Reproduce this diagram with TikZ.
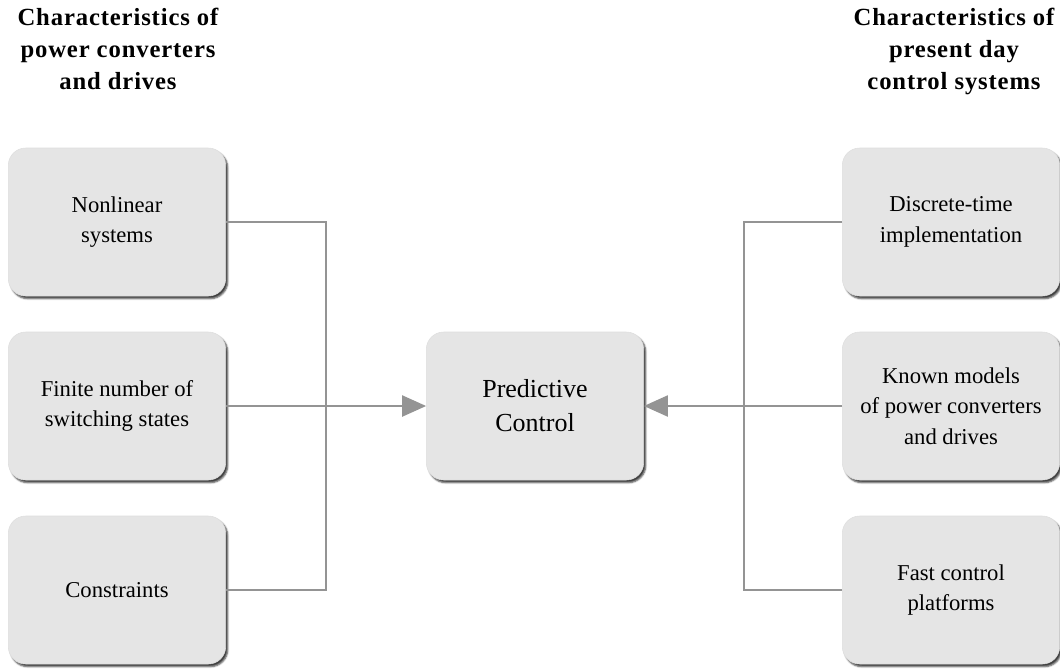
\documentclass[tikz,border=0pt]{standalone}
\usepackage{fontspec}
\setmainfont{Liberation Serif}
\newfontfamily\headfont[LetterSpace=3.5]{Liberation Serif}
\usetikzlibrary{arrows.meta}
\usetikzlibrary{shadows.blur}

\tikzset{
  featbox/.style={draw=black!13, fill=black!10, rounded corners=13pt,
    minimum width=163pt, minimum height=111pt, align=center,
    font=\fontsize{17}{23}\selectfont,
    blur shadow={shadow xshift=1.6pt, shadow yshift=-2pt, shadow blur steps=4,
      shadow blur radius=1.2pt, shadow opacity=75}},
  headtext/.style={align=center, anchor=north, font=\headfont\bfseries\fontsize{18.5}{24}\selectfont},
  link/.style={draw=black!42, line width=0.9pt},
  bigtip/.style={-{Triangle[length=18pt,width=16pt]}}
}

\begin{document}
\begin{tikzpicture}[x=0.75pt,y=0.75pt,yscale=-1,xscale=1]
\useasboundingbox (0,0) rectangle (1060,669);

%Headings
\node[headtext] (headL) at (118,3) {Characteristics of\\power converters\\and drives};
\node[headtext] (headR) at (954,3) {Characteristics of\\present day\\control systems};

%Left column
\node[featbox] (nonlin) at (117,222) {Nonlinear\\systems};
\node[featbox] (finite) at (117,406) {Finite number of\\switching states};
\node[featbox] (constr) at (117,590) {Constraints};

%Centre
\node[featbox, font=\fontsize{19.5}{25.5}\selectfont] (pred) at (535,406) {Predictive\\Control};

%Right column
\node[featbox] (discr) at (951,222) {Discrete-time\\implementation};
\node[featbox] (known) at (951,406) {Known models\\of power converters\\and drives};
\node[featbox] (fast) at (951,590) {Fast control\\platforms};

%Connectors, left
\coordinate (busL) at (326,406);
\draw[link] (nonlin.east) -| (busL);
\draw[link] (constr.east) -| (busL);
\draw[link, bigtip] (finite.east) -- (pred.west);

%Connectors, right
\coordinate (busR) at (744,406);
\draw[link] (discr.west) -| (busR);
\draw[link] (fast.west) -| (busR);
\draw[link, bigtip] (known.west) -- (pred.east);

\end{tikzpicture}
\end{document}
